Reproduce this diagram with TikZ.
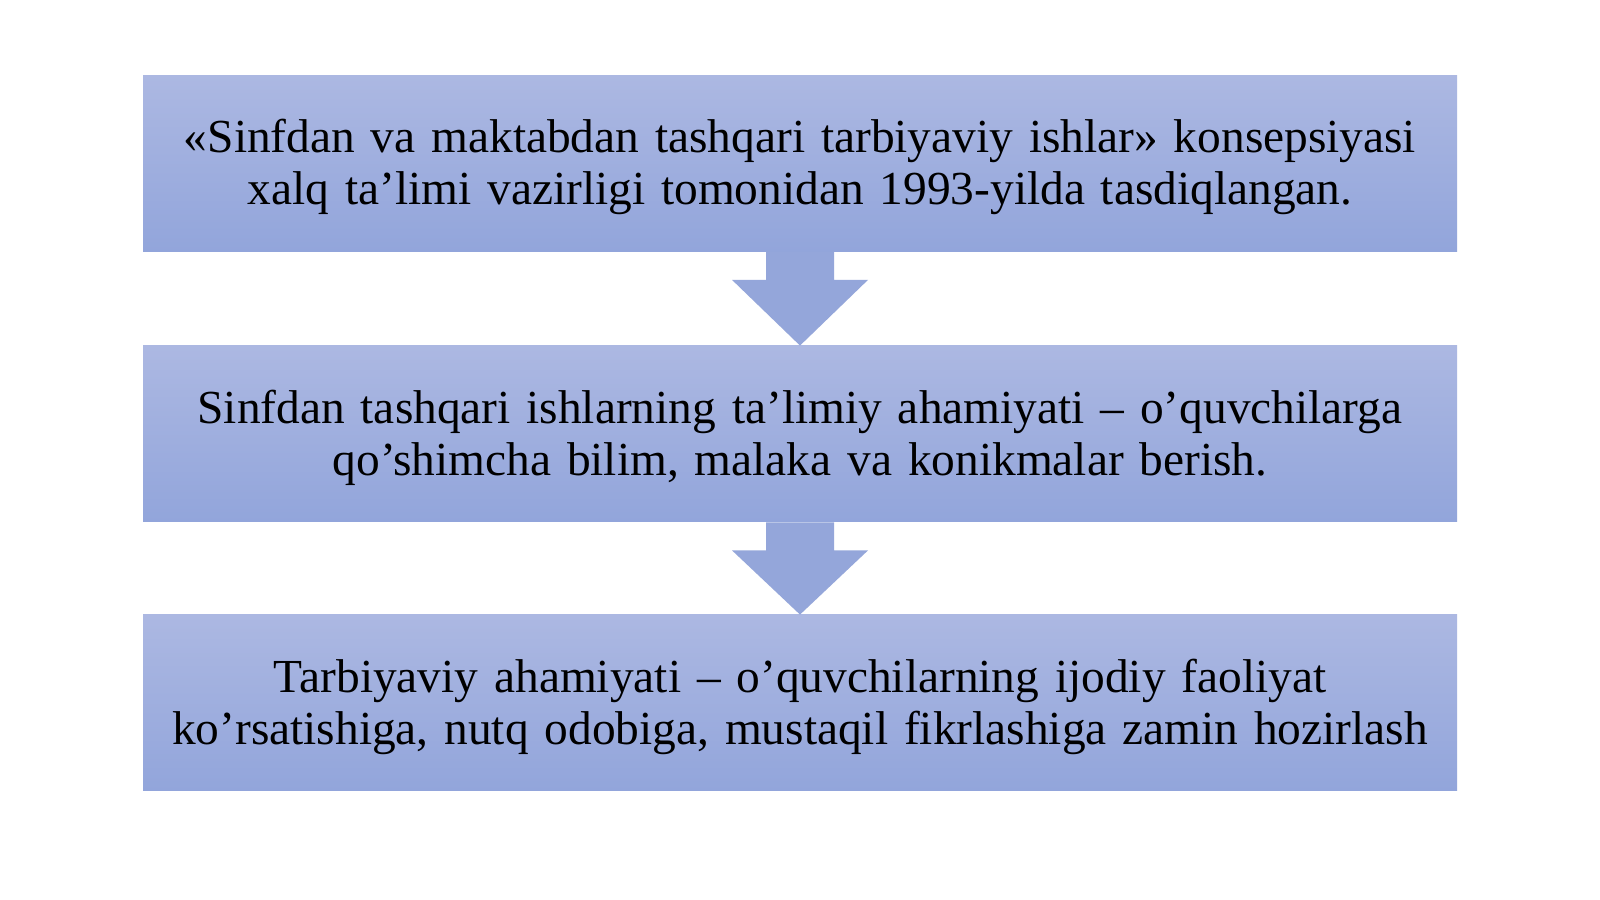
\documentclass[tikz,border=0pt]{standalone}
\usepackage{fontspec}
\setmainfont{Liberation Serif}
\usetikzlibrary{calc}

\definecolor{BoxTop}{RGB}{172,184,226}
\definecolor{BoxBottom}{RGB}{146,165,219}
\definecolor{ArrowBlue}{RGB}{148,166,218}

\tikzset{
  stage/.style={top color=BoxTop, bottom color=BoxBottom, minimum width=657pt,
    minimum height=88pt, inner sep=0pt, text width=650pt, align=center,
    text height=16pt, text depth=26.8pt,
    font=\fontsize{23.7}{26}\selectfont},
  flow/.style={fill=ArrowBlue}
}

\begin{document}
\begin{tikzpicture}[x=0.5pt, y=0.5pt]
\useasboundingbox (0,0) rectangle (1600,899);
\fill[white] (0,0) rectangle (1600,899);
%
\node[stage] (box1) at (800,735.5) {«Sinfdan va maktabdan tashqari tarbiyaviy ishlar» konsepsiyasi\\xalq ta’limi vazirligi tomonidan 1993-yilda tasdiqlangan.};
\node[stage] (box2) at (800,465) {Sinfdan tashqari ishlarning ta’limiy ahamiyati – o’quvchilarga\\qo’shimcha bilim, malaka va konikmalar berish.};
\node[stage] (box3) at (800,196) {Tarbiyaviy ahamiyati – o’quvchilarning ijodiy faoliyat\\ko’rsatishiga, nutq odobiga, mustaqil fikrlashiga zamin hozirlash};
%
\fill[flow] ($(box1.south)+(-34,0)$) -- ($(box1.south)+(-34,-28)$) -- ($(box1.south)+(-68,-28)$) -- (box2.north)
  -- ($(box1.south)+(68,-28)$) -- ($(box1.south)+(34,-28)$) -- ($(box1.south)+(34,0)$) -- cycle;
\fill[flow] ($(box2.south)+(-34,0)$) -- ($(box2.south)+(-34,-28)$) -- ($(box2.south)+(-68,-28)$) -- (box3.north)
  -- ($(box2.south)+(68,-28)$) -- ($(box2.south)+(34,-28)$) -- ($(box2.south)+(34,0)$) -- cycle;
\end{tikzpicture}
\end{document}
